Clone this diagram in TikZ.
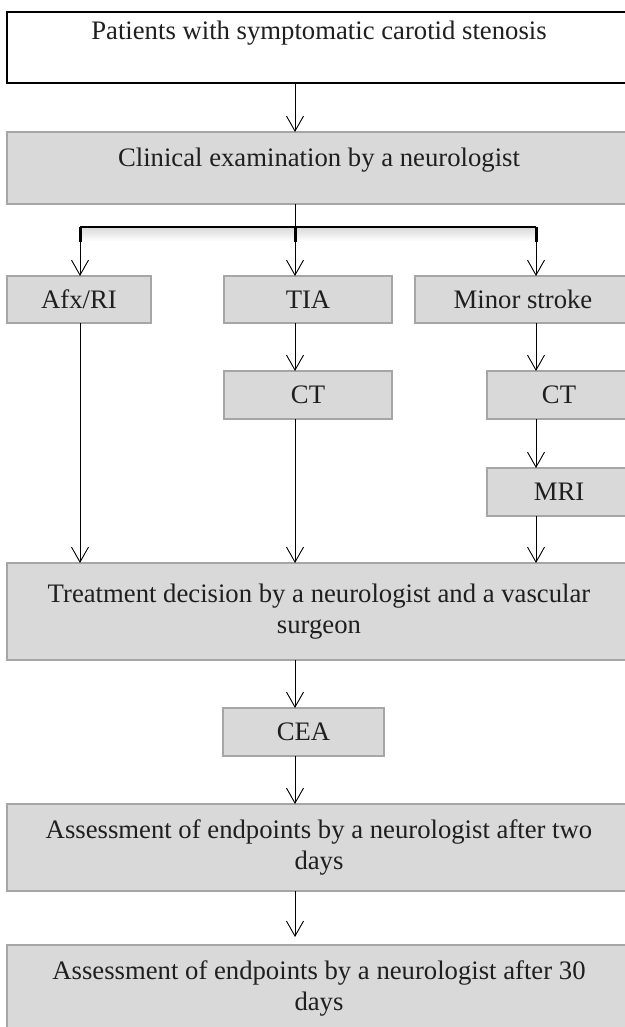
\documentclass[tikz,border=0pt]{standalone}
\usepackage{fontspec}
\setmainfont{Liberation Serif}
\usetikzlibrary{arrows.meta}

\begin{document}
\begin{tikzpicture}[x=1pt,y=-1pt,every node/.style={outer sep=0pt,text=black!88},font=\fontsize{26.7}{30.5}\selectfont]
\tikzstyle{plainbox}=[draw=black,line width=1.2pt,fill=white,anchor=north west,inner sep=0pt]
\tikzstyle{greybox}=[draw=black!35,line width=1.2pt,fill=black!15,anchor=north west,inner sep=0pt]
\tikzstyle{link}=[line width=0.9pt,-{Straight Barb[length=15pt,width=17pt]}]

\useasboundingbox (0,0) rectangle (624,1027);

% columns of the connectors
\coordinate (cL) at (80,0);
\coordinate (cM) at (295,0);
\coordinate (cR) at (536,0);
\coordinate (fork) at (295,227);

\node (patients) [plainbox,minimum width=624,minimum height=71,text height=28,text depth=43] at (7,12) {Patients with symptomatic carotid stenosis};
\node (clinic) [greybox,minimum width=624,minimum height=72,text height=34.7,text depth=37.3] at (7,132) {Clinical examination by a neurologist};

\node (afx) [greybox,minimum width=144,minimum height=47] at (7,276) {Afx/RI};
\node (tia) [greybox,minimum width=168,minimum height=47] at (224,276) {TIA};
\node (minor) [greybox,minimum width=216,minimum height=47] at (415,276) {Minor stroke};
\node (ct1) [greybox,minimum width=168,minimum height=48] at (224,371) {CT};
\node (ct2) [greybox,minimum width=144,minimum height=48] at (487,371) {CT};
\node (mri) [greybox,minimum width=144,minimum height=48] at (487,468) {MRI};

\node (decision) [greybox,minimum width=624,minimum height=97,align=center] at (7,563) {Treatment decision by a neurologist and a vascular\\surgeon};
\node (cea) [greybox,minimum width=161,minimum height=48] at (223,708) {CEA};
\node (twodays) [greybox,minimum width=624,minimum height=87,align=center] at (7,804) {Assessment of endpoints by a neurologist after two\\days};
\node (thirtydays) [greybox,minimum width=624,minimum height=87,align=center] at (7,945) {Assessment of endpoints by a neurologist after 30\\days};

\draw [link] (patients.south -| cM) -- (clinic.north -| cM);

% the fork
\shade [top color=black!14,bottom color=white] (80,228) rectangle (536,241);
\draw [line width=0.9pt] (clinic.south -| cM) -- (fork);
\draw [line width=1.2pt] (fork -| cL) -- (fork -| cR);
\foreach \c/\b in {cL/afx,cM/tia,cR/minor} {
  \draw [link] (fork -| \c) -- (\b.north -| \c);
  \draw [line width=3pt] (fork -| \c) -- ++(0,15);
}

\draw [link] (afx.south -| cL) -- (decision.north -| cL);
\draw [link] (tia.south -| cM) -- (ct1.north -| cM);
\draw [link] (ct1.south -| cM) -- (decision.north -| cM);
\draw [link] (minor.south -| cR) -- (ct2.north -| cR);
\draw [link] (ct2.south -| cR) -- (mri.north -| cR);
\draw [link] (mri.south -| cR) -- (decision.north -| cR);

\draw [link] (decision.south -| cM) -- (cea.north -| cM);
\draw [link] (cea.south -| cM) -- (twodays.north -| cM);
\draw [link,shorten >=8pt] (twodays.south -| cM) -- (thirtydays.north -| cM);
\end{tikzpicture}
\end{document}
